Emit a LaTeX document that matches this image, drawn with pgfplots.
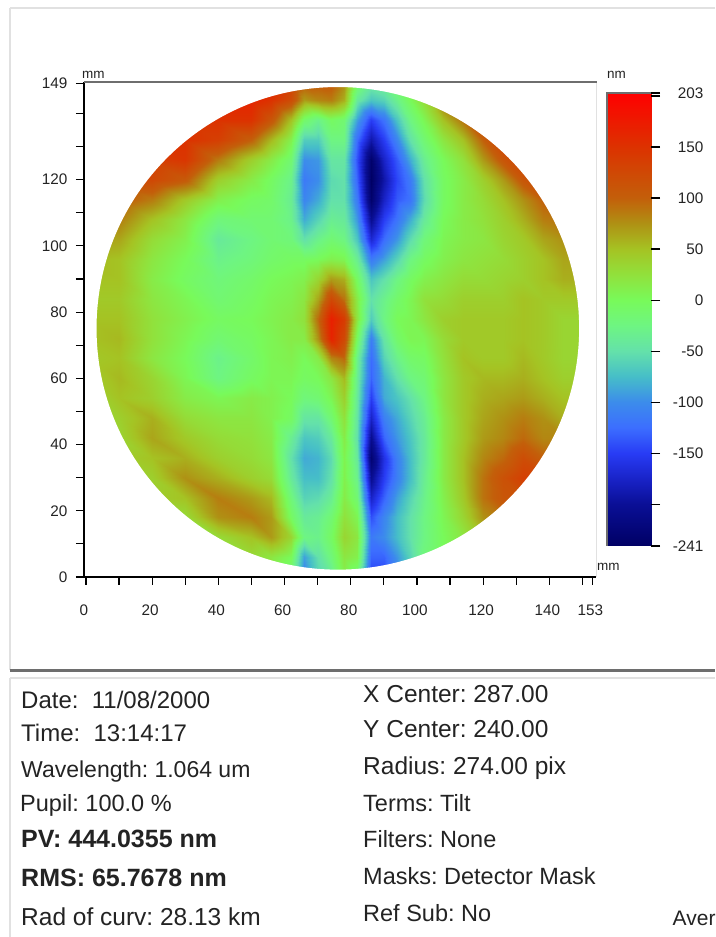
\documentclass[border=0pt]{standalone}
\usepackage{pgfplots}
\pgfplotsset{compat=1.18}
\usepackage{fontspec}
\setmainfont{Liberation Sans}
\frenchspacing
\definecolor{txt}{RGB}{35,35,35}
\definecolor{lg}{RGB}{225,225,225}
\definecolor{dg}{RGB}{110,110,110}
\pgfplotsset{colormap={wave}{rgb255(0pt)=(0,0,100); rgb255(41pt)=(10,15,150); rgb255(66pt)=(25,35,200); rgb255(91pt)=(40,60,245); rgb255(116pt)=(60,110,255); rgb255(141pt)=(60,140,235); rgb255(166pt)=(70,190,200); rgb255(191pt)=(100,225,170); rgb255(216pt)=(110,245,130); rgb255(241pt)=(120,250,90); rgb255(266pt)=(145,225,60); rgb255(291pt)=(165,195,35); rgb255(316pt)=(175,145,20); rgb255(341pt)=(195,95,10); rgb255(391pt)=(220,50,0); rgb255(444pt)=(255,0,0)}}
\newcommand\tk{\fontsize{15.3}{17}\selectfont}
\newcommand\lab[4]{\node[anchor=base west,inner sep=0,text=txt,font=\fontsize{#3}{#3}\selectfont] at (#1,{937-#2}) {#4};}
\begin{document}
\begin{tikzpicture}[x=1pt,y=1pt]
\path[use as bounding box] (0,0) rectangle (715,937);
\draw[lg,line width=2pt] (10,929) -- (715,929);
\draw[lg,line width=2pt] (10,929) -- (10,267);
\draw[dg,line width=3pt] (10,266.5) -- (715,266.5);
\draw[lg,line width=2pt] (10,259) -- (715,259);
\draw[lg,line width=2pt] (10,259) -- (10,0);
\draw[lg,line width=2pt] (596,855) -- (596,360);
\begin{axis}[at={(84pt,360pt)},anchor=south west,scale only axis,width=512pt,height=495pt,
 xmin=-0.6,xmax=154.1,ymin=0,ymax=149.5,view={0}{90},axis on top,
 axis x line*=bottom,axis y line*=left,axis line style={-,line width=1.3pt,black},
 tick style={black,line width=1.2pt},tick align=outside,major tick length=8pt,
 xtick={0,10,...,150,153},xticklabels={0,,20,,40,,60,,80,,100,,120,,140,,153},
 ytick={0,10,...,140,149},yticklabels={0,,20,,40,,60,,80,,100,,120,,,149},
 xticklabel style={font=\tk,text=txt,yshift=-16pt,xshift=-2pt},
 yticklabel style={font=\tk,text=txt,xshift=-5pt},
 point meta min=-241,point meta max=203,colormap name=wave]
\addplot3[surf,shader=interp,mesh/cols=26] coordinates {
(0,0,20)(10,0,20)(20,0,20)(30,0,30)(40,0,40)(50,0,50)(56,0,40)(62,0,-20)(66,0,-110)(70,0,-60)(74,0,-40)(78,0,10)(82,0,-20)(86,0,-150)(90,0,-150)(94,0,-110)(98,0,-60)(102,0,-10)(108,0,10)(114,0,30)(120,0,40)(126,0,50)(132,0,50)(138,0,50)(144,0,50)(152,0,50)
(0,6,20)(10,6,20)(20,6,20)(30,6,30)(40,6,40)(50,6,30)(56,6,20)(62,6,0)(66,6,-90)(70,6,-50)(74,6,-20)(78,6,20)(82,6,10)(86,6,-130)(90,6,-130)(94,6,-95)(98,6,-60)(102,6,-20)(108,6,0)(114,6,20)(120,6,30)(126,6,40)(132,6,50)(138,6,50)(144,6,50)(152,6,50)
(0,12,20)(10,12,20)(20,12,20)(30,12,30)(40,12,30)(50,12,50)(56,12,70)(62,12,35)(66,12,-25)(70,12,-30)(74,12,-5)(78,12,35)(82,12,20)(86,12,-115)(90,12,-100)(94,12,-75)(98,12,-50)(102,12,-25)(108,12,0)(114,12,20)(120,12,50)(126,12,60)(132,12,60)(138,12,60)(144,12,60)(152,12,60)
(0,18,30)(10,18,30)(20,18,30)(30,18,30)(40,18,75)(50,18,85)(56,18,70)(62,18,-5)(66,18,-40)(70,18,-35)(74,18,-15)(78,18,25)(82,18,5)(86,18,-140)(90,18,-105)(94,18,-75)(98,18,-50)(102,18,-25)(108,18,5)(114,18,35)(120,18,75)(126,18,90)(132,18,100)(138,18,100)(144,18,100)(152,18,100)
(0,24,40)(10,24,40)(20,24,40)(30,24,50)(40,24,85)(50,24,70)(56,24,55)(62,24,-20)(66,24,-60)(70,24,-55)(74,24,-35)(78,24,15)(82,24,-15)(86,24,-175)(90,24,-130)(94,24,-90)(98,24,-60)(102,24,-30)(108,24,10)(114,24,45)(120,24,90)(126,24,110)(132,24,115)(138,24,110)(144,24,110)(152,24,110)
(0,30,40)(10,30,40)(20,30,40)(30,30,75)(40,30,60)(50,30,40)(56,30,30)(62,30,-40)(66,30,-75)(70,30,-75)(74,30,-50)(78,30,10)(82,30,-30)(86,30,-205)(90,30,-150)(94,30,-110)(98,30,-75)(102,30,-35)(108,30,15)(114,30,50)(120,30,90)(126,30,115)(132,30,135)(138,30,130)(144,30,130)(152,30,130)
(0,36,40)(10,36,40)(20,36,50)(30,36,60)(40,36,40)(50,36,30)(56,36,20)(62,36,-50)(66,36,-85)(70,36,-80)(74,36,-55)(78,36,8)(82,36,-40)(86,36,-230)(90,36,-160)(94,36,-110)(98,36,-75)(102,36,-40)(108,36,15)(114,36,50)(120,36,80)(126,36,95)(132,36,120)(138,36,100)(144,36,100)(152,36,100)
(0,42,30)(10,42,35)(20,42,65)(30,42,45)(40,42,30)(50,42,25)(56,42,15)(62,42,-35)(66,42,-70)(70,42,-65)(74,42,-40)(78,42,15)(82,42,-50)(86,42,-205)(90,42,-130)(94,42,-95)(98,42,-70)(102,42,-40)(108,42,15)(114,42,45)(120,42,70)(126,42,80)(132,42,95)(138,42,80)(144,42,80)(152,42,80)
(0,48,30)(10,48,40)(20,48,60)(30,48,30)(40,48,20)(50,48,20)(56,48,10)(62,48,-5)(66,48,-45)(70,48,-45)(74,48,-15)(78,48,25)(82,48,-45)(86,48,-175)(90,48,-110)(94,48,-85)(98,48,-60)(102,48,-35)(108,48,15)(114,48,45)(120,48,65)(126,48,75)(132,48,85)(138,48,75)(144,48,60)(152,48,60)
(0,54,30)(10,54,50)(20,54,40)(30,54,15)(40,54,5)(50,54,15)(56,54,10)(62,54,0)(66,54,-20)(70,54,-15)(74,54,5)(78,54,40)(82,54,-40)(86,54,-150)(90,54,-85)(94,54,-70)(98,54,-50)(102,54,-25)(108,54,20)(114,54,45)(120,54,60)(126,54,65)(132,54,70)(138,54,60)(144,54,50)(152,54,50)
(0,60,40)(10,60,55)(20,60,35)(30,60,5)(40,60,-25)(50,60,-5)(56,60,5)(62,60,5)(66,60,-5)(70,60,0)(74,60,20)(78,60,55)(82,60,-35)(86,60,-130)(90,60,-80)(94,60,-50)(98,60,-25)(102,60,-15)(108,60,20)(114,60,45)(120,60,55)(126,60,55)(132,60,60)(138,60,50)(144,60,40)(152,60,40)
(0,66,45)(10,66,50)(20,66,20)(30,66,0)(40,66,-30)(50,66,-10)(56,66,5)(62,66,10)(66,66,0)(70,66,15)(74,66,80)(78,66,95)(82,66,-30)(86,66,-125)(90,66,-60)(94,66,-30)(98,66,-10)(102,66,-5)(108,66,25)(114,66,50)(120,66,45)(126,66,45)(132,66,55)(138,66,45)(144,66,35)(152,66,35)
(0,72,50)(10,72,55)(20,72,25)(30,72,5)(40,72,-15)(50,72,-5)(56,72,5)(62,72,15)(66,72,15)(70,72,75)(74,72,165)(78,72,125)(82,72,-5)(86,72,-110)(90,72,-45)(94,72,-10)(98,72,5)(102,72,5)(108,72,30)(114,72,45)(120,72,45)(126,72,45)(132,72,50)(138,72,45)(144,72,35)(152,72,35)
(0,78,50)(10,78,50)(20,78,25)(30,78,10)(40,78,-5)(50,78,0)(56,78,8)(62,78,15)(66,78,25)(70,78,95)(74,78,170)(78,78,140)(82,78,20)(86,78,-65)(90,78,-25)(94,78,0)(98,78,5)(102,78,20)(108,78,40)(114,78,45)(120,78,45)(126,78,45)(132,78,50)(138,78,45)(144,78,35)(152,78,35)
(0,84,45)(10,84,45)(20,84,20)(30,84,5)(40,84,-15)(50,84,-5)(56,84,5)(62,84,10)(66,84,20)(70,84,65)(74,84,125)(78,84,90)(82,84,15)(86,84,-50)(90,84,-30)(94,84,-10)(98,84,5)(102,84,25)(108,84,30)(114,84,40)(120,84,40)(126,84,40)(132,84,50)(138,84,45)(144,84,45)(152,84,45)
(0,90,50)(10,90,50)(20,90,15)(30,90,-5)(40,90,-20)(50,90,-10)(56,90,0)(62,90,5)(66,90,10)(70,90,35)(74,90,70)(78,90,60)(82,90,-5)(86,90,-70)(90,90,-50)(94,90,-25)(98,90,-5)(102,90,10)(108,90,20)(114,90,30)(120,90,30)(126,90,35)(132,90,40)(138,90,50)(144,90,60)(152,90,60)
(0,96,55)(10,96,50)(20,96,20)(30,96,0)(40,96,-30)(50,96,-20)(56,96,-10)(62,96,-5)(66,96,-5)(70,96,0)(74,96,10)(78,96,5)(82,96,-35)(86,96,-115)(90,96,-90)(94,96,-60)(98,96,-25)(102,96,-5)(108,96,10)(114,96,20)(120,96,25)(126,96,30)(132,96,40)(138,96,50)(144,96,65)(152,96,65)
(0,102,70)(10,102,65)(20,102,30)(30,102,10)(40,102,-40)(50,102,-25)(56,102,-15)(62,102,-20)(66,102,-50)(70,102,-30)(74,102,-15)(78,102,-25)(82,102,-70)(86,102,-170)(90,102,-125)(94,102,-95)(98,102,-55)(102,102,-20)(108,102,5)(114,102,15)(120,102,20)(126,102,35)(132,102,45)(138,102,65)(144,102,75)(152,102,75)
(0,108,85)(10,108,85)(20,108,50)(30,108,20)(40,108,-20)(50,108,-15)(56,108,-15)(62,108,-30)(66,108,-85)(70,108,-60)(74,108,-35)(78,108,-40)(82,108,-95)(86,108,-205)(90,108,-150)(94,108,-120)(98,108,-85)(102,108,-40)(108,108,0)(114,108,15)(120,108,25)(126,108,40)(132,108,60)(138,108,85)(144,108,90)(152,108,90)
(0,114,100)(10,114,105)(20,114,85)(30,114,45)(40,114,10)(50,114,-5)(56,114,-10)(62,114,-35)(66,114,-105)(70,114,-85)(74,114,-50)(78,114,-50)(82,114,-115)(86,114,-235)(90,114,-175)(94,114,-135)(98,114,-120)(102,114,-55)(108,114,-5)(114,114,15)(120,114,30)(126,114,50)(132,114,75)(138,114,100)(144,114,100)(152,114,100)
(0,120,120)(10,120,120)(20,120,125)(30,120,105)(40,120,40)(50,120,15)(56,120,-5)(62,120,-30)(66,120,-115)(70,120,-100)(74,120,-55)(78,120,-50)(82,120,-130)(86,120,-241)(90,120,-190)(94,120,-145)(98,120,-115)(102,120,-50)(108,120,-5)(114,120,15)(120,120,40)(126,120,70)(132,120,110)(138,120,120)(144,120,120)(152,120,120)
(0,126,140)(10,126,140)(20,126,135)(30,126,145)(40,126,85)(50,126,40)(56,126,15)(62,126,-15)(66,126,-100)(70,126,-95)(74,126,-45)(78,126,-45)(82,126,-140)(86,126,-235)(90,126,-175)(94,126,-135)(98,126,-85)(102,126,-35)(108,126,0)(114,126,25)(120,126,70)(126,126,110)(132,126,130)(138,126,130)(144,126,130)(152,126,130)
(0,132,150)(10,132,150)(20,132,150)(30,132,150)(40,132,135)(50,132,100)(56,132,55)(62,132,10)(66,132,-65)(70,132,-65)(74,132,-25)(78,132,-25)(82,132,-125)(86,132,-190)(90,132,-150)(94,132,-105)(98,132,-50)(102,132,-15)(108,132,20)(114,132,50)(120,132,100)(126,132,135)(132,132,130)(138,132,130)(144,132,130)(152,132,130)
(0,138,150)(10,138,150)(20,138,150)(30,138,150)(40,138,150)(50,138,150)(56,138,110)(62,138,50)(66,138,-10)(70,138,-30)(74,138,-5)(78,138,-15)(82,138,-90)(86,138,-150)(90,138,-120)(94,138,-70)(98,138,-25)(102,138,5)(108,138,50)(114,138,90)(120,138,120)(126,138,120)(132,138,120)(138,138,120)(144,138,120)(152,138,120)
(0,144,150)(10,144,150)(20,144,150)(30,144,150)(40,144,165)(50,144,165)(56,144,150)(62,144,120)(66,144,70)(70,144,80)(74,144,85)(78,144,60)(82,144,-40)(86,144,-70)(90,144,-60)(94,144,-30)(98,144,0)(102,144,30)(108,144,90)(114,144,100)(120,144,100)(126,144,100)(132,144,100)(138,144,100)(144,144,100)(152,144,100)
(0,150,150)(10,150,150)(20,150,150)(30,150,150)(40,150,165)(50,150,175)(56,150,170)(62,150,130)(66,150,110)(70,150,110)(74,150,110)(78,150,80)(82,150,0)(86,150,-30)(90,150,-20)(94,150,0)(98,150,20)(102,150,50)(108,150,90)(114,150,100)(120,150,100)(126,150,100)(132,150,100)(138,150,100)(144,150,100)(152,150,100)
};
\fill[white,even odd rule] (rel axis cs:0,0) rectangle (rel axis cs:1,1) (axis cs:76.1,75.1) circle [radius=241.3pt];
\end{axis}
\draw[dg,line width=2pt] (84,855) -- (597,855);
\begin{axis}[at={(606pt,391pt)},anchor=south west,scale only axis,width=45pt,height=453pt,
 xmin=0,xmax=1,ymin=-241,ymax=203,view={0}{90},axis on top,
 axis x line=none,axis y line*=right,axis line style={draw=none},
 xtick=\empty,tick style={black,line width=1.2pt},tick align=outside,major tick length=9pt,
 ytick={-241,-200,-150,-100,-50,0,50,100,150,200,203},
 yticklabels={-241,,-150,-100,-50,0,50,100,150,,203},
 yticklabel style={anchor=east,xshift=47pt,font=\tk,text=txt},
 point meta min=-241,point meta max=203,colormap name=wave]
\addplot3[surf,shader=interp,mesh/cols=2] coordinates {(0,-241,-241)(1,-241,-241)(0,203,203)(1,203,203)};
\end{axis}
\draw[dg,line width=2.5pt] (607,391) -- (607,844) -- (651,844);
\lab{82}{79}{13.5}{mm}
\lab{607}{79}{13.5}{nm}
\lab{597}{571}{13.5}{mm}
\lab{21}{709}{24}{Date:\ \ 11/08/2000}
\lab{21}{742}{24}{Time:\ \ 13:14:17}
\lab{21}{778}{23}{Wavelength: 1.064 um}
\lab{20}{812}{23.5}{Pupil: 100.0 \%}
\lab{21}{848}{25}{\bfseries PV: 444.0355 nm}
\lab{21}{887}{25}{\bfseries RMS: 65.7678 nm}
\lab{21}{926}{24.5}{Rad of curv: 28.13 km}
\lab{363}{703}{24.5}{X Center: 287.00}
\lab{363}{738}{24.5}{Y Center: 240.00}
\lab{363}{775}{24.5}{Radius: 274.00 pix}
\lab{363}{812}{23.5}{Terms: Tilt}
\lab{363}{848}{23.5}{Filters: None}
\lab{363}{885}{23.5}{Masks: Detector Mask}
\lab{363}{922}{23.5}{Ref Sub: No}
\lab{672.5}{926}{21}{Aver}
\end{tikzpicture}
\end{document}
